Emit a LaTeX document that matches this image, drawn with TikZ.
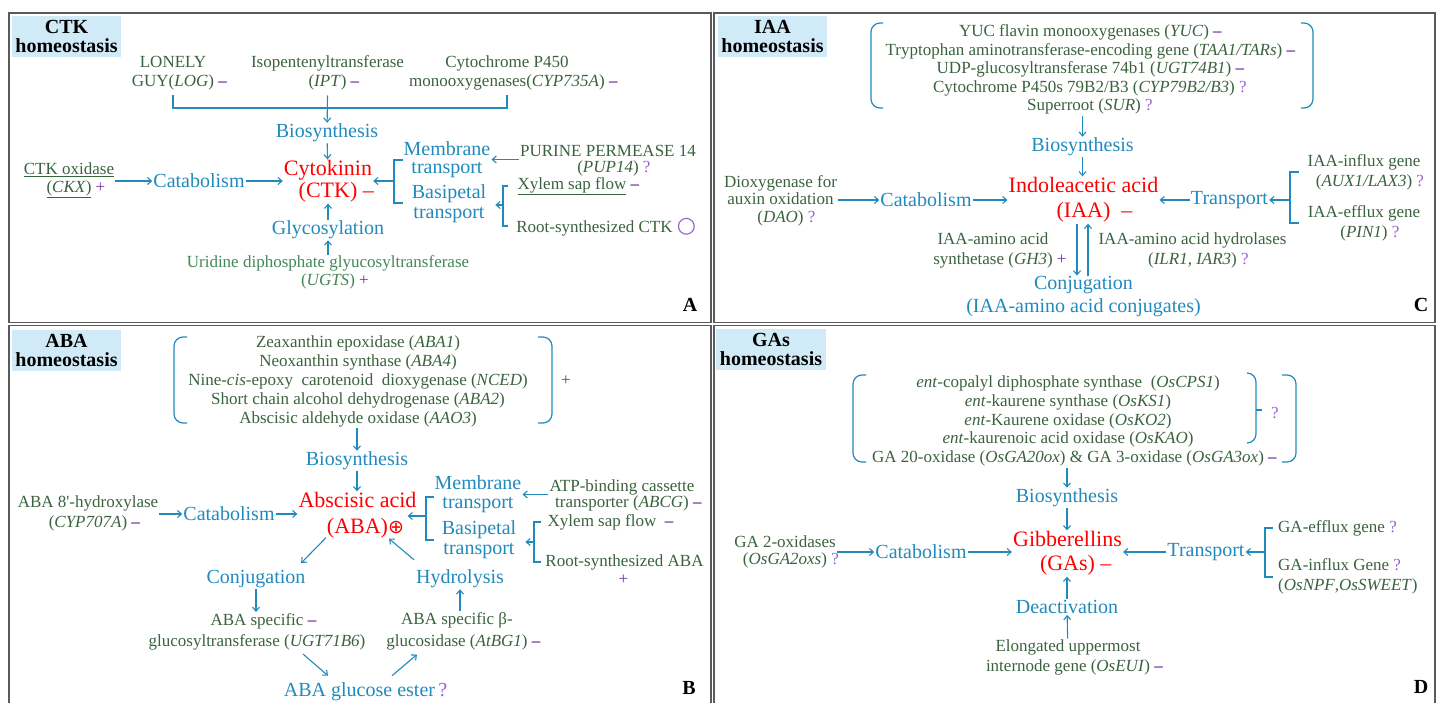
\documentclass[tikz,border=0pt]{standalone}
\usepackage{fontspec}
\setmainfont{Liberation Serif}
\newfontfamily\symfont{DejaVu Sans}
\usetikzlibrary{arrows.meta,calc}

\definecolor{gtext}{RGB}{58,98,62}
\definecolor{gtextl}{RGB}{66,135,86}
\definecolor{bl}{RGB}{33,138,188}
\definecolor{sgnp}{RGB}{112,48,160}
\definecolor{sgnq}{RGB}{150,100,205}
\definecolor{ttl}{RGB}{208,235,247}
\definecolor{frame}{RGB}{90,90,90}

\newcommand{\grnfont}[1][19]{\fontsize{17}{#1}\selectfont}
\newcommand{\blufont}[1][19]{\fontsize{20}{#1}\selectfont}
\newcommand{\redfont}[1][24]{\fontsize{22}{#1}\selectfont}
\newcommand{\ttlfont}{\fontsize{20}{19}\selectfont\bfseries}
\newcommand{\minussg}{\textcolor{sgnp}{\textbf{\textendash}}}
\newcommand{\plussg}{\textcolor{sgnp}{+}}
\newcommand{\qmark}{\textcolor{sgnq}{?}}
\newcommand{\signafter}[1]{\rlap{\ #1}}

\begin{document}
\begin{tikzpicture}[x=1pt,y=-1pt]
        \tikzstyle{panel} = [draw=frame, line width=1.2pt]
        \tikzstyle{ttlbox} = [fill=ttl, font=\ttlfont, align=center, inner sep=0pt, minimum height=41pt]
        \tikzstyle{gn} = [text=gtext, font=\grnfont, align=center, inner sep=1pt]
        \tikzstyle{bn} = [text=bl, font=\blufont, align=center, inner sep=1pt]
        \tikzstyle{rn} = [text=red, font=\redfont, align=center, inner sep=1pt]
        \tikzstyle{letter} = [font=\ttlfont, inner sep=0pt]
        \tikzstyle{line} = [-{Straight Barb[length=4pt,width=7pt]}, draw=bl, line width=1.1pt]
        \tikzstyle{brk} = [draw=bl, line width=1.2pt]
        \tikzstyle{brace} = [draw=bl, line width=1.2pt, rounded corners=9pt]
        \useasboundingbox (0,0) rectangle (1436,702);
        \draw[panel] (9,13) rectangle (711,322.5);
        \draw[panel] (714,13) rectangle (1435,322.5);
        \draw[panel] (9,325.5) rectangle (711,704);
        \draw[panel] (714,325.5) rectangle (1435,704);
        % CTK
        \node[ttlbox, minimum width=109pt] (ttlA) at (66.5,36) {CTK\\homeostasis};
        \node[gn] (log) at (173,73) {LONELY\\GUY(\textit{LOG})\signafter{\minussg}};
        \node[gn] (ipt) at (327.5,73) {Isopentenyltransferase\\(\textit{IPT})\signafter{\minussg}};
        \node[gn] (cyp) at (507,73) {Cytochrome P450\\monooxygenases(\textit{CYP735A})\signafter{\minussg}};
        \node[bn] (biosA) at (327,133) {Biosynthesis};
        \node[rn, font={\redfont[22]}] (ctk) at (328,181.5) {Cytokinin\\(CTK)\signafter{\textendash}};
        \node[gn, font={\grnfont[18]}] (ckx) at (69,180.5) {\underline{CTK oxidase}\\\underline{(\textit{CKX})}\signafter{\plussg}};
        \node[bn] (catA) at (199,181) {Catabolism};
        \node[bn] (glyA) at (328,230) {Glycosylation};
        \node[gn, text=gtextl, font={\grnfont[18]}] (ugts) at (328,272.5) {Uridine diphosphate glyucosyltransferase\\(\textit{UGTS})\signafter{\plussg}};
        \node[bn, font={\blufont[18.5]}] (memA) at (447,159.5) {Membrane\\transport};
        \node[bn, font={\blufont[20]}] (basA) at (449,203.5) {Basipetal\\transport};
        \node[gn, font={\grnfont[16.5]}] (pup) at (608,160.5) {PURINE PERMEASE 14\\(\textit{PUP14})\signafter{\qmark}};
        \node[gn] (xylA) at (572,186) {\underline{Xylem sap flow}\signafter{\minussg}};
        \node[gn] (rootA) at (594.5,227) {Root-synthesized CTK\signafter{\textcolor{sgnq}{\symfont\fontsize{22}{22}\selectfont ○}}};
        \node[letter] (labA) at (690,305) {A};
        \draw[brk] ([yshift=-4pt]log.south) |- (327.5,108) -| ([yshift=-4pt]cyp.south);
        \draw[line] ([yshift=-4pt]ipt.south) -- (biosA);
        \draw[line] (biosA) -- (ctk);
        \draw[line] (ckx.east |- catA) -- (catA);
        \draw[line] (catA) -- (catA -| ctk.west);
        \draw[line] (glyA) -- (ctk);
        \draw[line] (ugts) -- (glyA);
        \draw[brk] (403,160) -- (394,160) -- (394,203) -- (403,203);
        \coordinate (jA) at (394,181);
        \draw[line] (jA) -- (jA -| ctk.east);
        \draw[line] (pup.west |- memA.east) -- (memA.east);
        \draw[brk] (508,186) -- (503,186) -- (503,226) -- (508,226);
        \coordinate (jA2) at (503,205);
        \draw[line] (jA2) -- ($(jA2 -| basA.east)+(8,0)$);
        % IAA
        \node[ttlbox, minimum width=109pt] (ttlC) at (772.5,36.5) {IAA\\homeostasis};
        \node[gn, font={\grnfont[18.6]}] (genC) at (1084,69.5) {YUC flavin monooxygenases (\textit{YUC})\signafter{\minussg}\\
            Tryptophan aminotransferase-encoding gene (\textit{TAA1/TARs})\signafter{\minussg}\\
            UDP-glucosyltransferase 74b1 (\textit{UGT74B1})\signafter{\minussg}\\
            Cytochrome P450s 79B2/B3 (\textit{CYP79B2/B3})\signafter{\qmark}\\
            Superroot (\textit{SUR})\signafter{\qmark}};
        \draw[brace] (883,23) -- (871,23) -- (871,108) -- (883,108);
        \draw[brace] (1301,23) -- (1313,23) -- (1313,108) -- (1301,108);
        \node[bn] (biosC) at (1082.5,147) {Biosynthesis};
        \node[rn, font={\redfont[25]}] (iaa) at (1083.5,200) {Indoleacetic acid\\(IAA)\signafter{\ \textendash}};
        \node[gn, font={\grnfont[17.5]}] (dao) at (780.5,200.5) {Dioxygenase for\\auxin oxidation\\(\textit{DAO})\signafter{\qmark}};
        \node[bn] (catC) at (926,200) {Catabolism};
        \node[bn] (transC) at (1229.5,200) {Transport};
        \node[gn, font={\grnfont[20]}] (aux) at (1364,172.5) {IAA-influx gene\\(\textit{AUX1/LAX3})\signafter{\qmark}};
        \node[gn, font={\grnfont[20]}] (pin) at (1364,223.5) {IAA-efflux gene\\(\textit{PIN1})\signafter{\qmark}};
        \node[gn, font={\grnfont[20]}] (gh3) at (993,250.5) {IAA-amino acid\\synthetase (\textit{GH3})\signafter{\plussg}};
        \node[gn, font={\grnfont[20]}] (ilr) at (1192.5,250.5) {IAA-amino acid hydrolases\\(\textit{ILR1, IAR3})\signafter{\qmark}};
        \node[bn, font={\blufont[23]}] (conjC) at (1083.5,297) {Conjugation\\(IAA-amino acid conjugates)};
        \node[letter] (labC) at (1421,305) {C};
        \draw[line] (biosC |- genC.south) -- (biosC);
        \draw[line] (biosC) -- (biosC |- iaa.north);
        \draw[line] (dao.east |- catC) -- (catC);
        \draw[line] (catC) -- (catC -| iaa.west);
        \draw[line] (transC) -- (transC -| iaa.east);
        \draw[brk] (1299,172) -- (1290,172) -- (1290,223) -- (1299,223);
        \coordinate (jC) at (1290,200);
        \draw[line] (jC) -- (jC -| transC.east);
        \draw[line] ($(iaa.south)+(-6.5,0)$) -- ($(iaa.south |- conjC.north)+(-6.5,0)$);
        \draw[line] ($(iaa.south |- conjC.north)+(4.5,0)$) -- ($(iaa.south)+(4.5,0)$);
        % ABA
        \node[ttlbox, minimum width=109pt] (ttlB) at (66.5,350.5) {ABA\\homeostasis};
        \node[gn] (genB) at (358,381.5) {Zeaxanthin epoxidase (\textit{ABA1})\\
            Neoxanthin synthase (\textit{ABA4})\\
            Nine-\textit{cis}-epoxy\ \ carotenoid\ \ dioxygenase (\textit{NCED})\\
            Short chain alcohol dehydrogenase (\textit{ABA2})\\
            Abscisic aldehyde oxidase (\textit{AAO3})};
        \draw[brace] (187,337) -- (174,337) -- (174,423) -- (187,423);
        \draw[brace] (538,337) -- (552,337) -- (552,423) -- (538,423);
        \node[gn] (plB) at (566,381) {\plussg};
        \node[bn] (biosB) at (357,461) {Biosynthesis};
        \node[rn, font={\redfont[26]}] (aba) at (357.5,515.5) {Abscisic acid\\(ABA)\rlap{\symfont\fontsize{19}{19}\selectfont ⊕}};
        \node[gn, font={\grnfont[20]}] (cyp7) at (88,513.5) {ABA 8\textquotesingle-hydroxylase\\(\textit{CYP707A})\signafter{\minussg}};
        \node[bn] (catB) at (229,514) {Catabolism};
        \node[bn, font={\blufont[19]}] (memB) at (478,494.5) {Membrane\\transport};
        \node[bn, font={\blufont[20]}] (basB) at (479,539.5) {Basipetal\\transport};
        \node[gn, font={\grnfont[16.5]}] (abcg) at (622,495.5) {ATP-binding cassette\\transporter (\textit{ABCG})\signafter{\minussg}};
        \node[gn] (xylB) at (602,522) {Xylem sap flow\signafter{\ \minussg}};
        \node[gn] (rootB) at (624.5,562) {Root-synthesized ABA};
        \node[gn] (plRB) at (623.5,580) {\plussg};
        \node[bn] (conjB) at (256,579) {Conjugation};
        \node[bn] (hydB) at (460,579) {Hydrolysis};
        \node[gn, font={\grnfont[21]}] (ugt) at (257,631.5) {ABA specific\signafter{\minussg}\\glucosyltransferase (\textit{UGT71B6})};
        \node[gn, font={\grnfont[22]}] (bg1) at (457,631.5) {ABA specific β-\\glucosidase (\textit{AtBG1})\signafter{\minussg}};
        \node[bn] (ester) at (359.5,692) {ABA glucose ester\rlap{\,\qmark}};
        \node[letter] (labB) at (689,688) {B};
        \draw[line] (biosB |- genB.south) -- (biosB);
        \draw[line] (biosB) -- (biosB |- aba.north);
        \draw[line] (cyp7.east |- catB) -- (catB);
        \draw[line] (catB) -- (catB -| aba.west);
        \draw[brk] (434,497) -- (426,497) -- (426,540) -- (434,540);
        \coordinate (jB) at (426,516);
        \draw[line] (jB) -- ($(jB -| aba.east)+(-10,0)$);
        \draw[line] (abcg.west |- memB) -- (memB.east);
        \draw[brk] (541,522) -- (534,522) -- (534,562) -- (541,562);
        \coordinate (jB2) at (534,542);
        \draw[line] (jB2) -- ($(jB2 -| basB.east)+(8,0)$);
        \draw[line] ($(aba.south)+(-31.5,-2)$) -- ($(conjB.north east)+(-5.5,-6)$);
        \draw[line] ($(hydB.north west)+(-1,-9)$) -- ($(aba.south)+(31.5,-1)$);
        \draw[line] (conjB) -- (conjB |- ugt.north);
        \draw[line] (hydB |- bg1.north) -- (hydB);
        \draw[line] ($(ugt.south)+(46,3)$) -- ($(ester.north)+(-31.5,-6)$);
        \draw[line] ($(ester.north)+(32.5,-6)$) -- ($(bg1.south)+(-40,3)$);
        % GAs
        \node[ttlbox, minimum width=110pt] (ttlD) at (771,349.5) {GAs\\homeostasis};
        \node[gn, font={\grnfont[18.8]}] (genD) at (1068,421) {\textit{ent}-copalyl diphosphate synthase\ \ (\textit{OsCPS1})\\
            \textit{ent}-kaurene synthase (\textit{OsKS1})\\
            \textit{ent}-Kaurene oxidase (\textit{OsKO2})\\
            \textit{ent}-kaurenoic acid oxidase (\textit{OsKAO})\\
            GA 20-oxidase (\textit{OsGA20ox}) \& GA 3-oxidase (\textit{OsGA3ox})\signafter{\minussg}};
        \draw[brace] (866,375) -- (853,375) -- (853,462) -- (866,462);
        \draw[brace] (1247,373) -- (1256,373) -- (1256,443) -- (1247,443);
        \draw[brk] (1256,410) -- (1262,410);
        \node[gn] (qD) at (1275,413) {\qmark};
        \draw[brace] (1282,375) -- (1296,375) -- (1296,462) -- (1282,462);
        \node[bn] (biosD) at (1067,498) {Biosynthesis};
        \node[rn, font={\redfont[24]}] (ga) at (1067.5,553.5) {Gibberellins\\(GAs)\signafter{\textendash}};
        \node[gn, font={\grnfont[17.5]}] (ga2) at (785,552) {GA 2-oxidases\\(\textit{OsGA2oxs})\signafter{\qmark}};
        \node[bn] (catD) at (921,552) {Catabolism};
        \node[bn] (transD) at (1206,552) {Transport};
        \node[gn, anchor=west] (effD) at (1277,528) {GA-efflux gene\ \qmark};
        \node[gn, anchor=west, align=left, font={\grnfont[20]}] (inflD) at (1277,576.5) {GA-influx Gene\ \qmark\\(\textit{OsNPF},\textit{OsSWEET})};
        \node[bn] (deact) at (1067,607) {Deactivation};
        \node[gn, font={\grnfont[20]}] (eui) at (1068,657.5) {Elongated uppermost\\internode gene (\textit{OsEUI})\signafter{\minussg}};
        \node[letter] (labD) at (1421,687) {D};
        \draw[line] (biosD |- genD.south) -- (biosD);
        \draw[line] (biosD) -- (biosD |- ga.north);
        \draw[line] (ga2.east |- catD) -- (catD);
        \draw[line] (catD) -- (catD -| ga.west);
        \draw[line] (transD) -- (transD -| ga.east);
        \draw[brk] (1273,528) -- (1265,528) -- (1265,577) -- (1273,577);
        \coordinate (jD) at (1265,552);
        \draw[line] (jD) -- (jD -| transD.east);
        \draw[line] (eui) -- (deact);
        \draw[line] (deact) -- (deact |- ga.south);
\end{tikzpicture}
\end{document}
